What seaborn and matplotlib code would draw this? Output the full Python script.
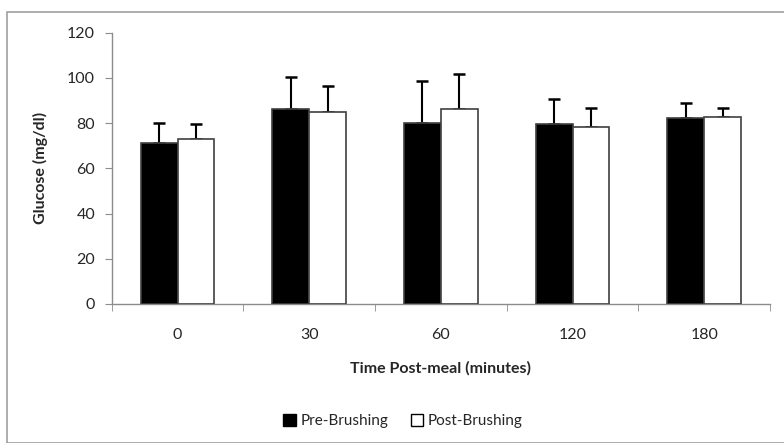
#!/usr/bin/env python3
"""Glucose pre/post brushing bar chart with upper SD error bars."""

import matplotlib

matplotlib.use("Agg")
import matplotlib.pyplot as plt
import numpy as np
import pandas as pd
import seaborn as sns
from matplotlib.patches import Patch, Rectangle

# =============================================================================
# DATA
# =============================================================================

TIMES = ["0", "30", "60", "120", "180"]
GROUPS = ["Pre-Brushing", "Post-Brushing"]

PRE_MEAN = [71.4, 86.3, 80.2, 79.6, 82.4]
PRE_SD = [8.7, 14.0, 18.3, 11.0, 6.4]
POST_MEAN = [73.1, 84.8, 86.1, 78.2, 82.9]
POST_SD = [6.4, 11.7, 15.7, 8.4, 3.8]

Y_TICKS = [0, 20, 40, 60, 80, 100, 120]

# =============================================================================
# APPEARANCE
# =============================================================================

FIG_W, FIG_H, DPI = 7.84, 4.43, 100
FONT = ["Lato", "DejaVu Sans"]
AXIS_GRAY = "#8c8c8c"
BAR_COLORS = {"Pre-Brushing": "black", "Post-Brushing": "white"}
TICK_SIZE = 11.5
LABEL_SIZE = 11.5
LEGEND_SIZE = 11

sns.set_style("white")
plt.rcParams["font.family"] = FONT

df = pd.DataFrame(
    {
        "time": TIMES * 2,
        "group": [GROUPS[0]] * len(TIMES) + [GROUPS[1]] * len(TIMES),
        "glucose": PRE_MEAN + POST_MEAN,
        "sd": PRE_SD + POST_SD,
    }
)

fig = plt.figure(figsize=(FIG_W, FIG_H), dpi=DPI)

# Outer chart border (Excel style)
fig.patches.append(
    Rectangle(
        (7 / 784, 0.0), 1.0, 1 - 12 / 443,
        transform=fig.transFigure, fill=False,
        edgecolor="#a0a0a0", linewidth=1.2, zorder=0,
    )
)

ax = fig.add_axes([0.1425, 0.3138, 0.8397, 0.6124])

sns.barplot(
    data=df, x="time", y="glucose", hue="group", order=TIMES, hue_order=GROUPS,
    palette=BAR_COLORS, width=0.56, errorbar=None, edgecolor="#404040",
    linewidth=1.2, legend=False, ax=ax, zorder=3,
)

# Upper-only error bars placed at the bar centers seaborn produced
for container, group in zip(ax.containers, GROUPS):
    sub = df[df["group"] == group]
    xs = [p.get_x() + p.get_width() / 2 for p in container.patches]
    heights = [p.get_height() for p in container.patches]
    ax.errorbar(
        xs, heights, yerr=[np.zeros(len(xs)), sub["sd"].to_numpy()],
        fmt="none", ecolor="black", elinewidth=1.5, capsize=4.3,
        capthick=1.8, zorder=2,
    )

ax.set_ylim(0, 120)
ax.set_yticks(Y_TICKS)
ax.set_xlim(-0.5, len(TIMES) - 0.5)
ax.set_xticks(np.arange(-0.5, len(TIMES)), minor=True)

for side in ["top", "right"]:
    ax.spines[side].set_visible(False)
for side in ["left", "bottom"]:
    ax.spines[side].set_color(AXIS_GRAY)
    ax.spines[side].set_linewidth(1.0)

ax.tick_params(axis="y", which="major", direction="out", length=5,
               color=AXIS_GRAY, labelsize=TICK_SIZE, left=True, pad=7)
ax.tick_params(axis="x", which="major", length=0, labelsize=TICK_SIZE, pad=17)
ax.tick_params(axis="x", which="minor", direction="out", length=5,
               color=AXIS_GRAY, bottom=True)

ax.set_xlabel("Time Post-meal (minutes)", fontweight="bold",
              fontsize=LABEL_SIZE, labelpad=14)
ax.set_ylabel("Glucose (mg/dl)", fontweight="bold", fontsize=LABEL_SIZE,
              labelpad=14)

handles = [
    Patch(facecolor="black", edgecolor="black", label=GROUPS[0]),
    Patch(facecolor="white", edgecolor="black", label=GROUPS[1]),
]
fig.legend(
    handles=handles, loc="center", bbox_to_anchor=(403 / 784, 1 - 421 / 443),
    ncol=2, frameon=False, fontsize=LEGEND_SIZE, handlelength=0.8,
    handleheight=0.8, handletextpad=0.3, columnspacing=1.5,
)

fig.savefig("out.png", dpi=DPI)
